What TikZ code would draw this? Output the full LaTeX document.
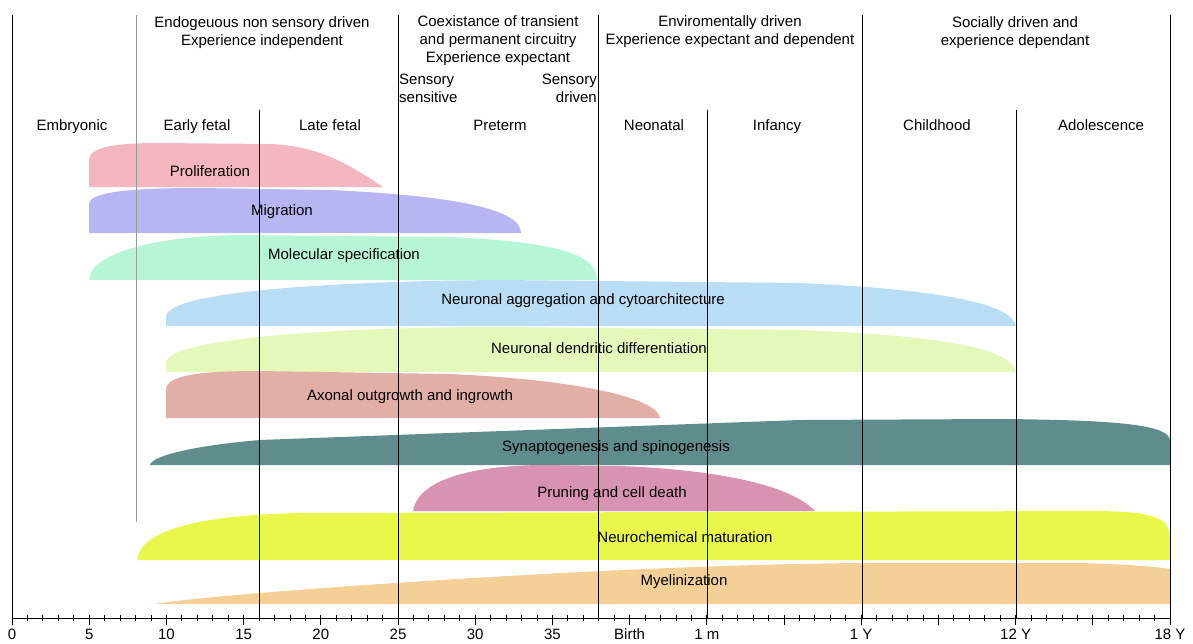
\documentclass[tikz,border=0pt]{standalone}
\usepackage{fontspec}
\setmainfont{Liberation Sans}
\definecolor{prolifcol}{HTML}{F5B7BF}
\definecolor{migrcol}{HTML}{B8B6F2}
\definecolor{molcol}{HTML}{B6F5D6}
\definecolor{aggrcol}{HTML}{B8DDF5}
\definecolor{dendcol}{HTML}{E3F8B9}
\definecolor{axoncol}{HTML}{E2AFA6}
\definecolor{synapcol}{HTML}{5F8C8D}
\definecolor{prunecol}{HTML}{D892B2}
\definecolor{neurocol}{HTML}{E9F74B}
\definecolor{myelcol}{HTML}{F5D096}

\begin{document}
\begin{tikzpicture}[x=1pt, y=-1pt,
    lbl/.style={font=\fontsize{15}{18}\selectfont, inner sep=0pt, align=center},
    sep/.style={line width=0.8pt}]
\useasboundingbox (0,0) rectangle (1193,643);

% bands
\fill[prolifcol] (89,187) -- (89,160) .. controls (89,146) and (120,143) .. (160,143)
    -- (270,144) .. controls (320,146) and (350,165) .. (383,187) -- cycle;
\fill[migrcol] (89,233) -- (89,204) .. controls (89,192) and (130,188) .. (200,188)
    -- (330,190) .. controls (460,196) and (521,210) .. (521,233) -- cycle;
\fill[molcol] (89,280) .. controls (89,255) and (150,236) .. (240,235)
    -- (450,237) .. controls (560,242) and (597,255) .. (597,280) -- cycle;
\fill[aggrcol] (166,326) -- (166,316) .. controls (170,290) and (350,281) .. (500,280)
    -- (800,283) .. controls (950,290) and (1012,305) .. (1016,326) -- cycle;
\fill[dendcol] (166,372) -- (166,362) .. controls (170,337) and (350,327) .. (500,327)
    -- (800,330) .. controls (950,336) and (1012,350) .. (1016,372) -- cycle;
\fill[axoncol] (166,418) -- (166,390) .. controls (166,375) and (200,371) .. (260,371)
    -- (450,374) .. controls (580,380) and (657,398) .. (660,418) -- cycle;
\fill[synapcol] (150,465) .. controls (152,455) and (200,445) .. (260,440)
    -- (800,420) -- (1000,419) .. controls (1120,420) and (1168,425) .. (1170,440)
    -- (1170,465) -- cycle;
\fill[prunecol] (413,511) .. controls (418,480) and (470,466) .. (540,465)
    -- (620,466) .. controls (720,470) and (790,485) .. (815,511) -- cycle;
\fill[neurocol] (137,560) .. controls (140,530) and (200,515) .. (300,513)
    -- (1100,511) .. controls (1160,512) and (1170,520) .. (1170,540) -- (1170,560) -- cycle;
\fill[myelcol] (155,604) .. controls (200,595) and (600,565) .. (860,563)
    -- (1080,563) .. controls (1120,564) and (1150,566) .. (1170,569) -- (1170,604) -- cycle;

% period borders
\foreach \x in {12,398,598,862,1170}
    \draw[sep] (\x,15) -- (\x,618);
\foreach \x in {259,707,1016}
    \draw[sep] (\x,110) -- (\x,618);
\draw[sep, black!40] (136,15) -- (136,522);

% time axis
\draw[sep] (12,618) -- (1170,618);
\foreach \t in {0,...,75}
    \draw[sep] ({12+15.44*\t},615) -- ++(0,6);
\foreach \t in {0,5,...,75}
    \draw[sep] ({12+15.44*\t},615) -- ++(0,10);
\foreach \t/\l in {0/0,5/5,10/10,15/15,20/20,25/25,30/30,35/35,40/Birth,45/1 m,55/1 Y,65/12 Y,75/18 Y}
    \node[lbl, anchor=base] (tick\t) at ({12+15.44*\t},639) {\l};

% stages
\node[lbl, anchor=base] (embryonic) at (72,130) {Embryonic};
\node[lbl, anchor=base] (earlyfetal) at (197,130) {Early fetal};
\node[lbl, anchor=base] (latefetal) at (330,130) {Late fetal};
\node[lbl, anchor=base] (preterm) at (500,130) {Preterm};
\node[lbl, anchor=base] (neonatal) at (654,130) {Neonatal};
\node[lbl, anchor=base] (infancy) at (777,130) {Infancy};
\node[lbl, anchor=base] (childhood) at (937,130) {Childhood};
\node[lbl, anchor=base] (adolescence) at (1101,130) {Adolescence};

% drivers (base = last line)
\node[lbl, anchor=base] (endog) at (262,45) {Endogeuous non sensory driven\\Experience independent};
\node[lbl, anchor=base] (coexist) at (498,62) {Coexistance of transient\\and permanent circuitry\\Experience expectant};
\node[lbl, anchor=base west, align=left] (sensitive) at (399,102) {Sensory\\sensitive};
\node[lbl, anchor=base east, align=right] (sdriven) at (597,102) {Sensory\\driven};
\node[lbl, anchor=base] (enviro) at (730,44) {Enviromentally driven\\Experience expectant and dependent};
\node[lbl, anchor=base] (social) at (1015,45) {Socially driven and\\experience dependant};

% processes
\node[lbl] (prolif) at (210,171) {Proliferation};
\node[lbl] (migr) at (282,212) {Migration};
\node[lbl] (molspec) at (344,256) {Molecular specification};
\node[lbl] (aggr) at (583,301) {Neuronal aggregation and cytoarchitecture};
\node[lbl] (dend) at (599,348) {Neuronal dendritic differentiation};
\node[lbl] (axon) at (410,397) {Axonal outgrowth and ingrowth};
\node[lbl] (synap) at (616,448) {Synaptogenesis and spinogenesis};
\node[lbl] (prune) at (612,494) {Pruning and cell death};
\node[lbl] (neuro) at (685,537) {Neurochemical maturation};
\node[lbl] (myel) at (684,582) {Myelinization};

\end{tikzpicture}
\end{document}
